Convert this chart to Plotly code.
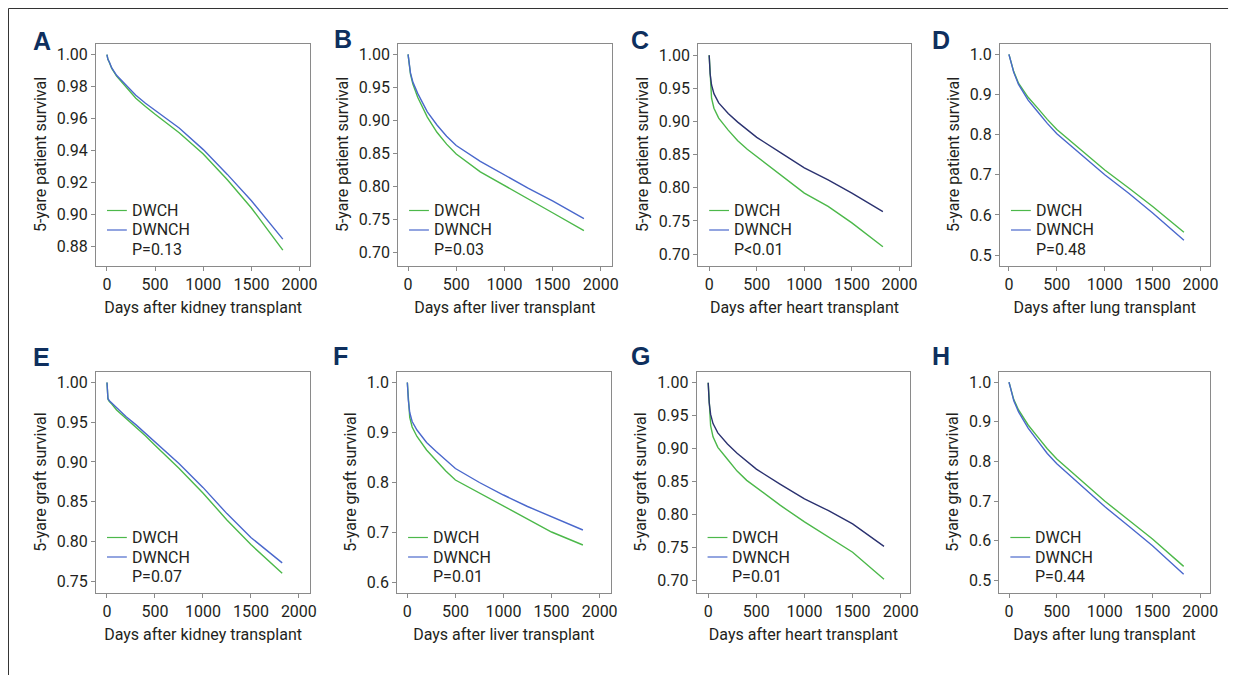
import plotly.graph_objects as go

# The page body adds an 8px margin; the figure is sized and positioned to compensate.
OFF = 8
FW, FH = 1238, 667

DAYS = [0, 10, 25, 50, 100, 200, 300, 400, 500, 750, 1000, 1250, 1500, 1826]

A_DWCH  = [1.000, 0.997, 0.995, 0.9913, 0.9865, 0.9794, 0.9726, 0.9675, 0.9626, 0.9511, 0.9378, 0.9216, 0.9040, 0.8776]
A_DWNCH = [1.000, 0.997, 0.9953, 0.9916, 0.9870, 0.9805, 0.9745, 0.9695, 0.9650, 0.9540, 0.9405, 0.9250, 0.9085, 0.8845]
B_DWCH  = [1.000, 0.985, 0.970, 0.955, 0.935, 0.905, 0.882, 0.864, 0.849, 0.822, 0.801, 0.780, 0.760, 0.733]
B_DWNCH = [1.000, 0.986, 0.972, 0.958, 0.941, 0.913, 0.893, 0.876, 0.862, 0.838, 0.817, 0.797, 0.778, 0.751]
C_DWCH  = [1.000, 0.965, 0.935, 0.920, 0.905, 0.887, 0.871, 0.858, 0.847, 0.819, 0.792, 0.772, 0.747, 0.711]
C_DWNCH = [1.000, 0.972, 0.955, 0.942, 0.928, 0.912, 0.899, 0.887, 0.876, 0.853, 0.830, 0.812, 0.792, 0.764]
D_DWCH  = [1.000, 0.990, 0.975, 0.957, 0.928, 0.893, 0.866, 0.838, 0.813, 0.762, 0.712, 0.667, 0.621, 0.557]
D_DWNCH = [1.000, 0.990, 0.974, 0.955, 0.925, 0.886, 0.857, 0.828, 0.802, 0.752, 0.700, 0.654, 0.605, 0.537]
E_DWCH  = [1.000, 0.979, 0.976, 0.973, 0.9655, 0.955, 0.9445, 0.933, 0.921, 0.892, 0.861, 0.827, 0.796, 0.760]
E_DWNCH = [1.000, 0.980, 0.977, 0.974, 0.968, 0.957, 0.947, 0.936, 0.925, 0.898, 0.868, 0.835, 0.805, 0.773]
F_DWCH  = [1.000, 0.960, 0.930, 0.911, 0.892, 0.865, 0.844, 0.823, 0.805, 0.779, 0.752, 0.727, 0.701, 0.675]
F_DWNCH = [1.000, 0.965, 0.940, 0.922, 0.905, 0.880, 0.862, 0.844, 0.828, 0.800, 0.775, 0.752, 0.731, 0.705]
G_DWCH  = [1.000, 0.965, 0.935, 0.918, 0.902, 0.884, 0.866, 0.852, 0.841, 0.814, 0.789, 0.766, 0.743, 0.702]
G_DWNCH = [1.000, 0.970, 0.952, 0.938, 0.924, 0.907, 0.893, 0.881, 0.869, 0.846, 0.824, 0.806, 0.786, 0.752]
H_DWCH  = [1.000, 0.990, 0.975, 0.956, 0.930, 0.892, 0.862, 0.832, 0.806, 0.753, 0.700, 0.652, 0.604, 0.535]
H_DWNCH = [1.000, 0.990, 0.973, 0.953, 0.925, 0.884, 0.852, 0.820, 0.794, 0.740, 0.686, 0.637, 0.587, 0.515]

LETTERS = ["A", "B", "C", "D", "E", "F", "G", "H"]
YTITLES = ["5-yare patient survival"] * 4 + ["5-yare graft survival"] * 4
XTITLES = ["Days after kidney transplant", "Days after liver transplant",
           "Days after heart transplant", "Days after lung transplant"] * 2
PVALUES = ["P=0.13", "P=0.03", "P<0.01", "P=0.48", "P=0.07", "P=0.01", "P=0.01", "P=0.44"]
SERIES_NAMES = ["DWCH", "DWNCH"]
YTICKS = [
    [0.88, 0.90, 0.92, 0.94, 0.96, 0.98, 1.00],
    [0.70, 0.75, 0.80, 0.85, 0.90, 0.95, 1.00],
    [0.70, 0.75, 0.80, 0.85, 0.90, 0.95, 1.00],
    [0.5, 0.6, 0.7, 0.8, 0.9, 1.0],
    [0.75, 0.80, 0.85, 0.90, 0.95, 1.00],
    [0.6, 0.7, 0.8, 0.9, 1.0],
    [0.70, 0.75, 0.80, 0.85, 0.90, 0.95, 1.00],
    [0.5, 0.6, 0.7, 0.8, 0.9, 1.0],
]
YFMT = [".2f", ".2f", ".2f", ".1f", ".2f", ".1f", ".2f", ".1f"]
XTICKS = [0, 500, 1000, 1500, 2000]

GREEN_SERIES = [A_DWCH, B_DWCH, C_DWCH, D_DWCH, E_DWCH, F_DWCH, G_DWCH, H_DWCH]
BLUE_SERIES = [A_DWNCH, B_DWNCH, C_DWNCH, D_DWNCH, E_DWNCH, F_DWNCH, G_DWNCH, H_DWNCH]

# layout geometry (screen pixels): box left, right, top, bottom; axis ranges
BOXES = [
    (96.7, 312.3, 43.5, 265.5), (401, 616, 43.5, 265.5),
    (703.3, 917.3, 43.5, 265.5), (1007.3, 1218.3, 43.5, 265.5),
    (96.7, 312.3, 371.5, 592.5), (400, 615, 371.5, 592.5),
    (701.7, 916.7, 371.5, 592.5), (1006.7, 1218.3, 371.5, 592.5),
]
XRANGES = [(-113, 2109), (-103, 2113), (-115, 2118), (-93, 2093),
           (-114, 2117), (-106, 2114), (-120, 2097), (-100, 2096)]
YRANGES = [(0.868, 1.0069), (0.680, 1.0166), (0.6828, 1.0176), (0.474, 1.027),
           (0.7357, 1.0139), (0.580, 1.022), (0.682, 1.017), (0.469, 1.027)]
LETTER_POS = [(42, 41), (345, 39), (645, 40), (948, 40),
              (42, 357), (343, 356), (645, 356), (948, 356)]

GREEN = "#4cb84a"
BLUE = "#4a68cc"
NAVY = "#2b3270"
BLUE_LINES = [BLUE, BLUE, NAVY, BLUE, BLUE, BLUE, NAVY, BLUE]
AXIS_COLOR = "#8a8a8a"
TEXT_COLOR = "#231f20"
LETTER_COLOR = "#0e2f5e"
FONT = "Roboto, Liberation Sans, sans-serif"
TICK_SIZE = 16
TITLE_SIZE = 16


def px(x):
    return (x - OFF) / FW


def py(y):
    return 1 - (y - OFF) / FH


fig = go.Figure()
layout = dict(
    width=FW, height=FH, margin=dict(l=0, r=0, t=0, b=0),
    paper_bgcolor="white", plot_bgcolor="white", showlegend=False,
    font=dict(family=FONT, color=TEXT_COLOR, size=TICK_SIZE),
)
shapes = []
annotations = []

for i in range(8):
    n = "" if i == 0 else str(i + 1)
    xa, ya = "x" + n, "y" + n
    left, right, top, bottom = BOXES[i]
    fig.add_trace(go.Scatter(x=DAYS, y=GREEN_SERIES[i], mode="lines", name=SERIES_NAMES[0],
                             line=dict(color=GREEN, width=1.4), xaxis=xa, yaxis=ya))
    fig.add_trace(go.Scatter(x=DAYS, y=BLUE_SERIES[i], mode="lines", name=SERIES_NAMES[1],
                             line=dict(color=BLUE_LINES[i], width=1.4), xaxis=xa, yaxis=ya))
    common = dict(showline=True, mirror=True, linecolor=AXIS_COLOR, linewidth=1,
                  ticks="outside", ticklen=4, tickcolor=AXIS_COLOR, tickwidth=1,
                  showgrid=False, zeroline=False,
                  tickfont=dict(family=FONT, size=TICK_SIZE, color=TEXT_COLOR))
    layout["xaxis" + n] = dict(
        common, domain=[px(left), px(right)], range=list(XRANGES[i]), anchor=ya,
        tickvals=XTICKS, ticktext=[str(v) for v in XTICKS],
        title=dict(text=XTITLES[i], standoff=9, font=dict(family=FONT, size=TITLE_SIZE, color=TEXT_COLOR)),
    )
    layout["yaxis" + n] = dict(
        common, domain=[py(bottom), py(top)], range=list(YRANGES[i]), anchor=xa,
        tickvals=YTICKS[i], ticktext=[format(v, YFMT[i]) for v in YTICKS[i]],
        title=dict(text=YTITLES[i], standoff=6, font=dict(family=FONT, size=TITLE_SIZE, color=TEXT_COLOR)),
    )
    # panel letter
    lx, ly = LETTER_POS[i]
    annotations.append(dict(x=px(lx), y=py(ly), xref="paper", yref="paper", text="<b>%s</b>" % LETTERS[i],
                            showarrow=False, xanchor="center", yanchor="middle",
                            font=dict(family="Liberation Sans, Arial, sans-serif", size=25, color=LETTER_COLOR)))
    # legend block inside the plot
    rows = [bottom - 55, bottom - 35.5, bottom - 16]
    for r, (col, label) in enumerate([(GREEN, SERIES_NAMES[0]), (BLUE, SERIES_NAMES[1])]):
        shapes.append(dict(type="line", xref="paper", yref="paper",
                           x0=px(left + 11), x1=px(left + 31), y0=py(rows[r]), y1=py(rows[r]),
                           line=dict(color=col, width=1.2)))
        annotations.append(dict(x=px(left + 34), y=py(rows[r]), xref="paper", yref="paper", text=label,
                                showarrow=False, xanchor="left", yanchor="middle",
                                font=dict(family=FONT, size=TICK_SIZE, color=TEXT_COLOR)))
    annotations.append(dict(x=px(left + 34), y=py(rows[2]), xref="paper", yref="paper", text=PVALUES[i],
                            showarrow=False, xanchor="left", yanchor="middle",
                            font=dict(family=FONT, size=TICK_SIZE, color=TEXT_COLOR)))

# outer frame (top and left edges)
shapes.append(dict(type="line", xref="paper", yref="paper", x0=px(8.5), x1=px(1237), y0=py(8.5), y1=py(8.5),
                   line=dict(color="#333333", width=1)))
shapes.append(dict(type="line", xref="paper", yref="paper", x0=px(8.5), x1=px(8.5), y0=py(8.5), y1=py(675),
                   line=dict(color="#333333", width=1)))

layout["shapes"] = shapes
layout["annotations"] = annotations
fig.update_layout(**layout)
fig.write_html("out.html")
